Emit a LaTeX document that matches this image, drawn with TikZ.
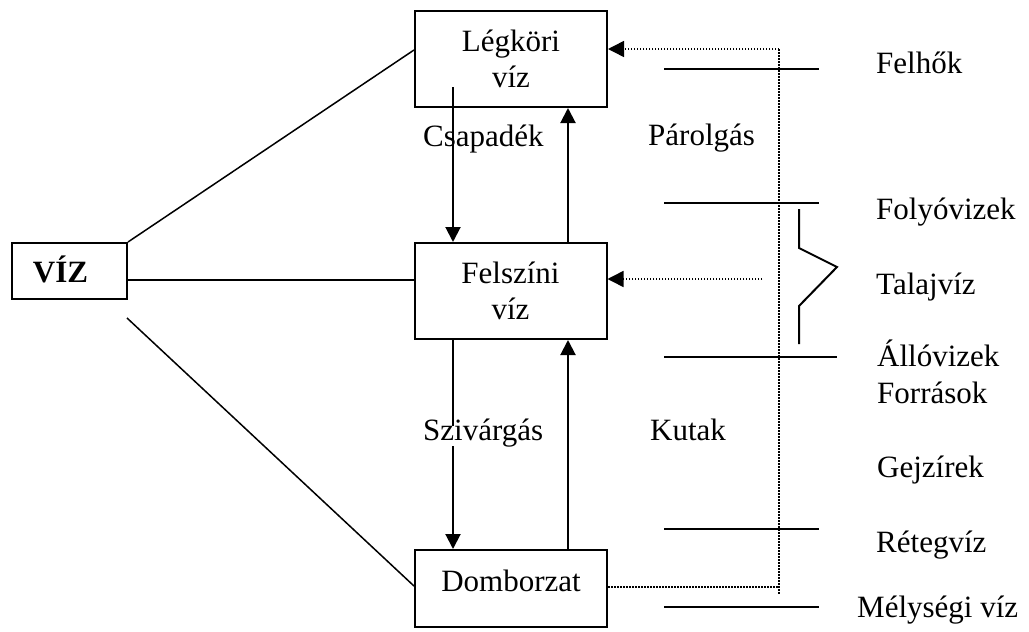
\documentclass[tikz,border=0pt]{standalone}
\usepackage{fontspec}
\setmainfont{Liberation Serif}
\usetikzlibrary{arrows.meta,calc}
\newcommand\bigfont{\fontsize{31}{36}\selectfont}
\tikzset{
  box/.style={draw, line width=2pt, inner sep=0pt, align=center, font=\bigfont},
  lbl/.style={anchor=base west, inner sep=0pt, font=\bigfont},
  arr/.style={line width=2pt, -{Triangle[length=15pt,width=15pt]}},
  plain/.style={line width=1.5pt},
  solid line/.style={line width=2pt},
  dot/.style={line width=1.5pt, dash pattern=on 1.5pt off 1.5pt},
  dotarr/.style={dot, -{Triangle[length=16pt,width=16pt]}},
}
\begin{document}
\begin{tikzpicture}[x=1pt,y=-1pt]
\useasboundingbox (0,0) rectangle (1029,632);
% boxes
\node[box, minimum width=192pt, minimum height=96pt] (leg) at (511,59) {Légköri\\víz};
\node[box, minimum width=192pt, minimum height=96pt] (fel) at (510.5,291) {Felszíni\\víz};
\node[box, minimum width=192pt, minimum height=77pt, text depth=16pt] (dom) at (511,588.5) {Domborzat};
\node[box, minimum width=115pt, minimum height=56pt, text height=22pt, text depth=0pt, font=\bigfont\bfseries] (viz) at (69.5,271) {VÍZ\hspace*{18pt}};
% lines from VIZ
\coordinate (a1) at (415,50);
\coordinate (a2) at (127,280);
\coordinate (a3) at (127,318);
\coordinate (a4) at (415,586);
\draw[plain] (viz.north east) -- (a1 -| leg.west);
\draw[plain] (a2) -- (a2 -| fel.west);
\draw[plain] (a3) -- (a4 -| dom.west);
% vertical arrows
\coordinate (xl) at (453,87);
\coordinate (xr) at (568,0);
\draw[arr] (xl) -- (xl |- fel.north);
\draw[arr] (xr |- fel.north) -- (xr |- leg.south);
\draw[arr] (xr |- dom.north) -- (xr |- fel.south);
\draw[arr] (xl |- fel.south) -- (xl |- dom.north)
  node[pos=0.46, fill=white, inner xsep=0pt, inner ysep=3pt, font=\bigfont] (sziv) {\phantom{x}};
% labels in the middle
\node[lbl] (csap) at (423,146) {Csapadék};
\node[lbl] (sziv2) at (423,440) {Szivárgás};
\node[lbl] (parol) at (648,145) {Párolgás};
\node[lbl] (kutak) at (650,440) {Kutak};
% dotted lines
\coordinate (dt) at (779,49);
\coordinate (db) at (779,594);
\coordinate (dbh) at (779,587);
\coordinate (dm) at (762,279);
\draw[dot] (dt) -- (db);
\draw[dotarr] (dt) -- (dt -| leg.east);
\draw[dot] (dom.east |- dbh) -- (dbh);
\draw[dotarr] (dm) -- (dm -| fel.east);
% right horizontal lines
\coordinate (h1) at (664,69);
\coordinate (h1e) at (819,69);
\coordinate (h2) at (664,203);
\coordinate (h2e) at (819,203);
\coordinate (h3) at (664,357);
\coordinate (h3e) at (837,357);
\coordinate (h4) at (664,529);
\coordinate (h4e) at (819,529);
\coordinate (h5) at (664,607);
\coordinate (h5e) at (819,607);
\draw[solid line] (h1) -- (h1e);
\draw[solid line] (h2) -- (h2e);
\draw[solid line] (h3) -- (h3e);
\draw[solid line] (h4) -- (h4e);
\draw[solid line] (h5) -- (h5e);
% zigzag brace
\coordinate (z1) at (799,209);
\coordinate (z2) at (799,248);
\coordinate (z3) at (837,267);
\coordinate (z4) at (799,306);
\coordinate (z5) at (799,344);
\draw[solid line] (z1) -- (z2) -- (z3) -- (z4) -- (z5);
% right labels
\node[lbl] (felhok) at (876,73) {Felhők};
\node[lbl] (folyo) at (876,219) {Folyóvizek};
\node[lbl] (talaj) at (876,294) {Talajvíz};
\node[lbl] (allo) at (877,366) {Állóvizek};
\node[lbl] (forr) at (877,403) {Források};
\node[lbl] (gejz) at (877,477) {Gejzírek};
\node[lbl] (reteg) at (876,552) {Rétegvíz};
\node[lbl] (melys) at (857,617) {Mélységi víz};
\end{tikzpicture}
\end{document}
